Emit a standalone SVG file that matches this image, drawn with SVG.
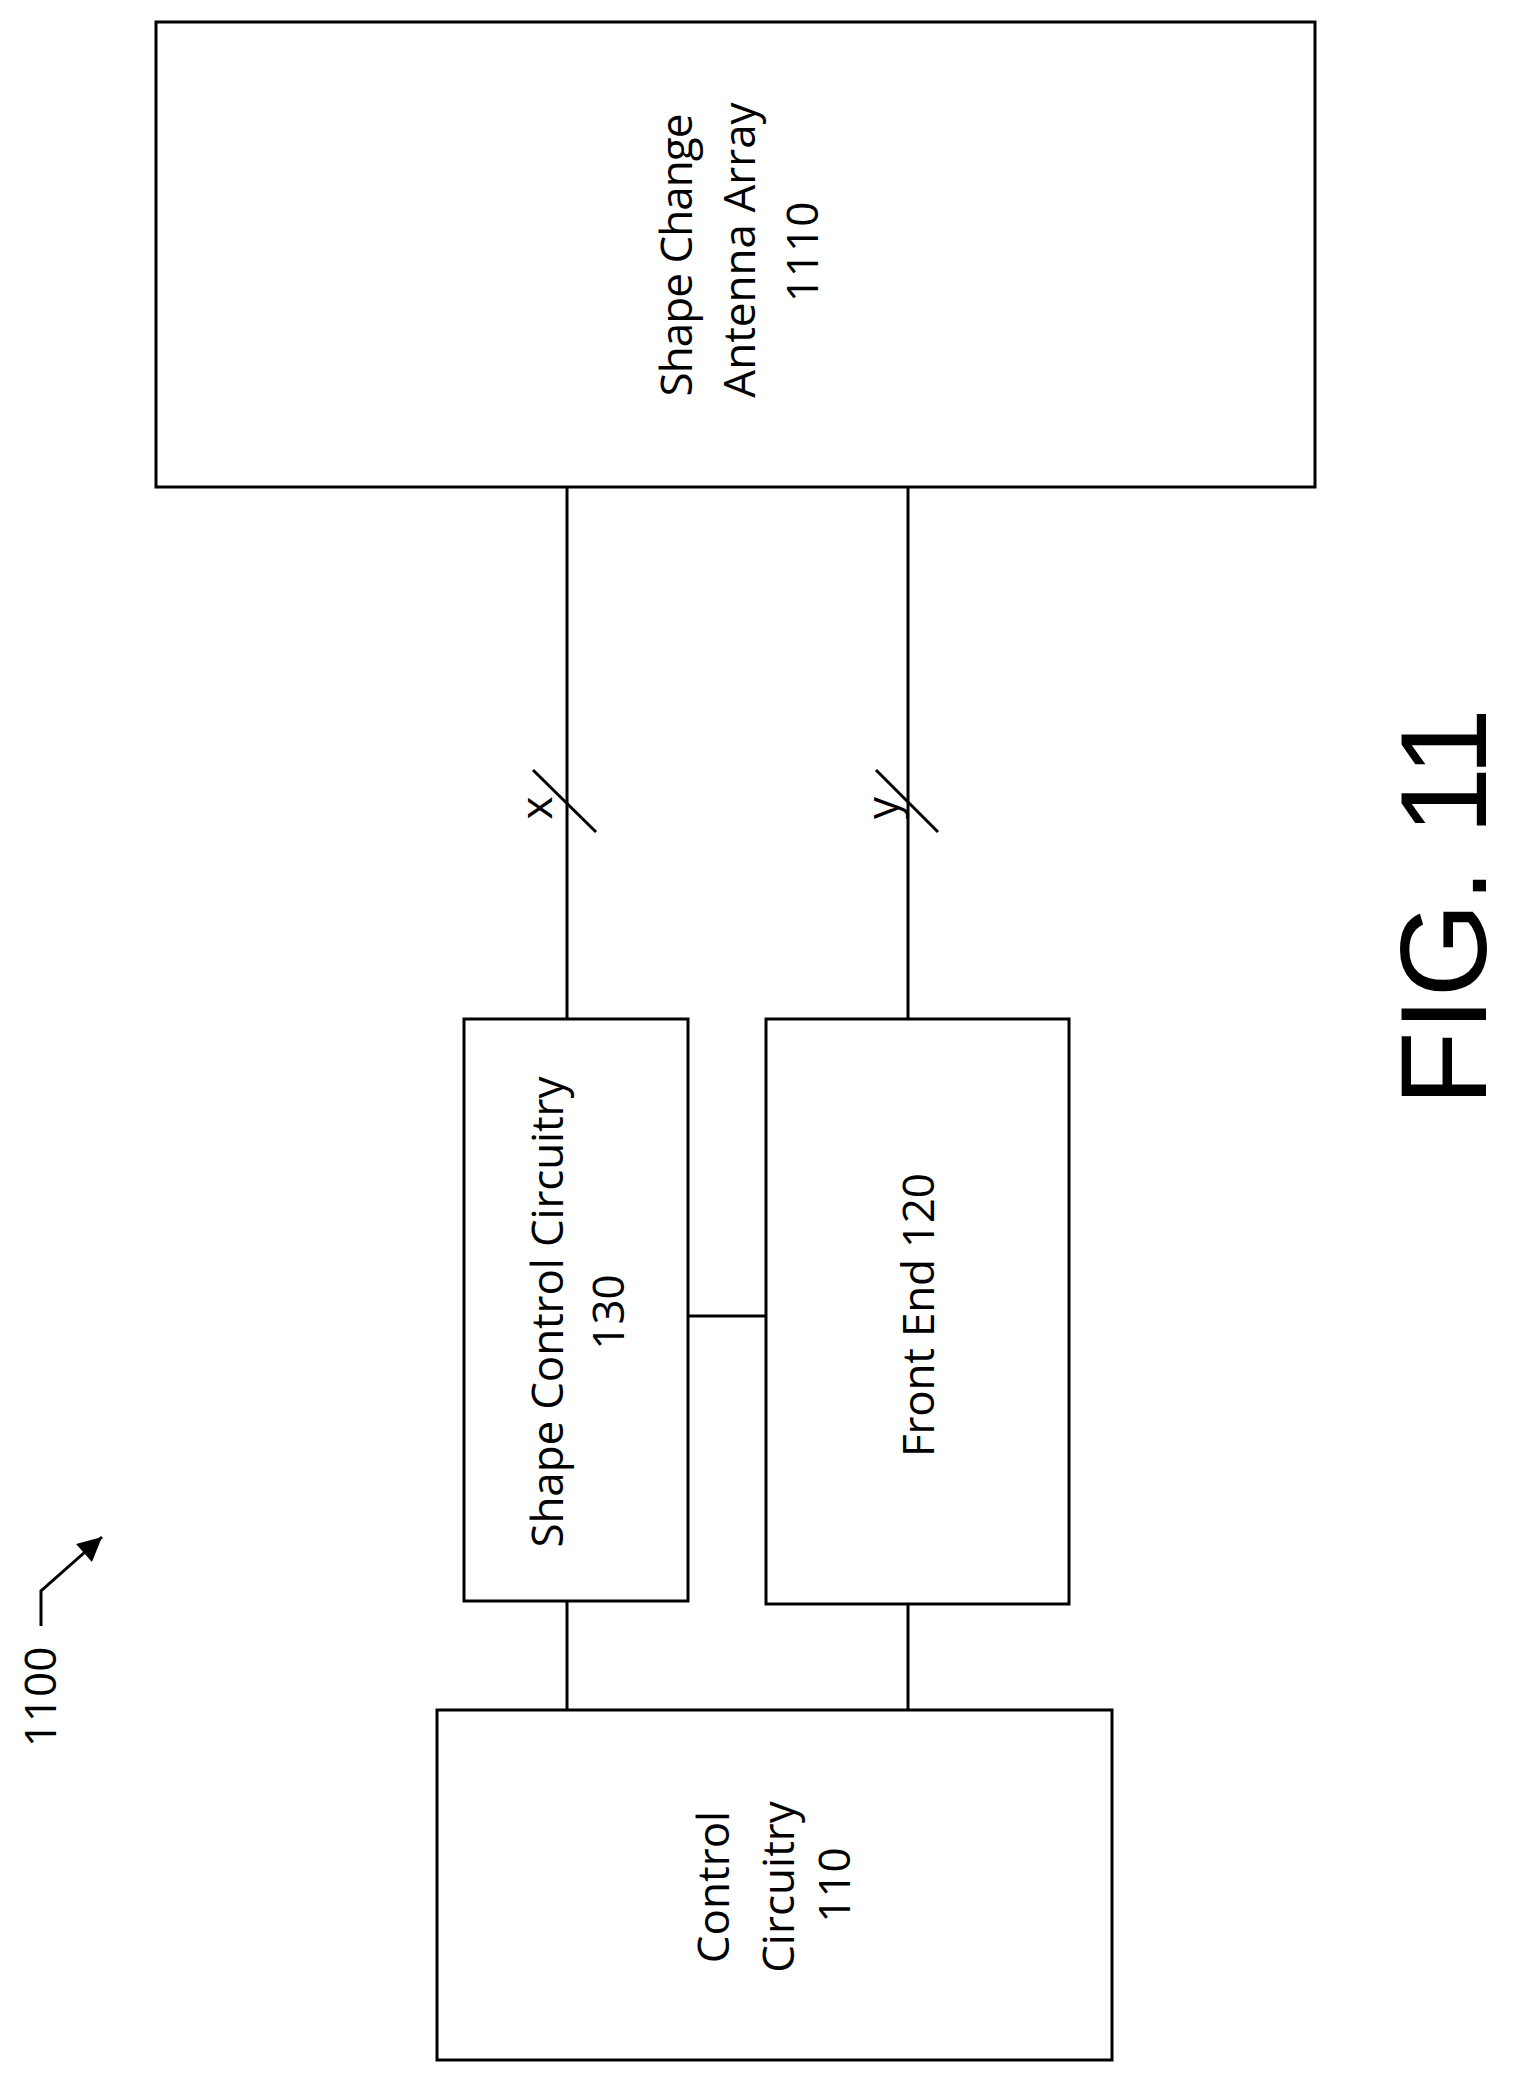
<svg xmlns="http://www.w3.org/2000/svg" width="1514" height="2079" viewBox="0 0 1514 2079">
<style>
.box{fill:#fff;stroke:#000;stroke-width:3}
.ln{stroke:#000;stroke-width:3;fill:none}
.t{font-family:"Open Sans","Liberation Sans",sans-serif;font-size:44px;fill:#000;text-anchor:middle}
</style>
<defs>
<marker id="ah2" viewBox="0 0 10 10" markerWidth="30" markerHeight="24" refX="10" refY="5" orient="auto" markerUnits="userSpaceOnUse"><path d="M0,0 L10,5 L0,10 z"/></marker></defs>
<g id="connectors">
<line class="ln" x1="567" y1="487" x2="567" y2="1019"/>
<line class="ln" x1="908" y1="487" x2="908" y2="1019"/>
<line class="ln" x1="533" y1="770" x2="596" y2="832"/>
<line class="ln" x1="876" y1="770" x2="938" y2="832"/>
<line class="ln" x1="567" y1="1601" x2="567" y2="1710"/>
<line class="ln" x1="908" y1="1604" x2="908" y2="1710"/>
<line class="ln" x1="688" y1="1316" x2="766" y2="1316"/>
<text class="t" font-size="40" transform="translate(552,808) rotate(-90)">x</text>
<text class="t" font-size="40" transform="translate(898,808) rotate(-90)">y</text>
</g>
<g id="antenna">
<rect class="box" x="156" y="22" width="1159" height="465"/>
<text class="t" transform="translate(692,255) rotate(-90)" textLength="283">Shape Change</text>
<text class="t" transform="translate(755,250) rotate(-90)">Antenna Array</text>
<text class="t" transform="translate(818,252) rotate(-90)">1110</text>
</g>
<g id="shape-control">
<rect class="box" x="464" y="1019" width="224" height="582"/>
<text class="t" transform="translate(563,1312) rotate(-90)" textLength="471">Shape Control Circuitry</text>
<text class="t" transform="translate(624,1312) rotate(-90)">130</text>
</g>
<g id="front-end">
<rect class="box" x="766" y="1019" width="303" height="585"/>
<text class="t" transform="translate(934,1315) rotate(-90)" textLength="284">Front End 120</text>
</g>
<g id="control">
<rect class="box" x="437" y="1710" width="675" height="350"/>
<text class="t" transform="translate(729,1887) rotate(-90)">Control</text>
<text class="t" transform="translate(794,1887) rotate(-90)">Circuitry</text>
<text class="t" transform="translate(850,1885) rotate(-90)">110</text>
</g>
<g id="ref-1100">
<text class="t" font-size="50" transform="translate(56,1697) rotate(-90)">1100</text>
<path class="ln" d="M41,1626 L41,1591 L102,1537" marker-end="url(#ah2)"/>
</g>
<g id="fig">
<text font-family="Liberation Sans,Arial,sans-serif" font-size="122" text-anchor="middle" transform="translate(1486,907) rotate(-90)">FIG. 11</text>
</g>
</svg>
